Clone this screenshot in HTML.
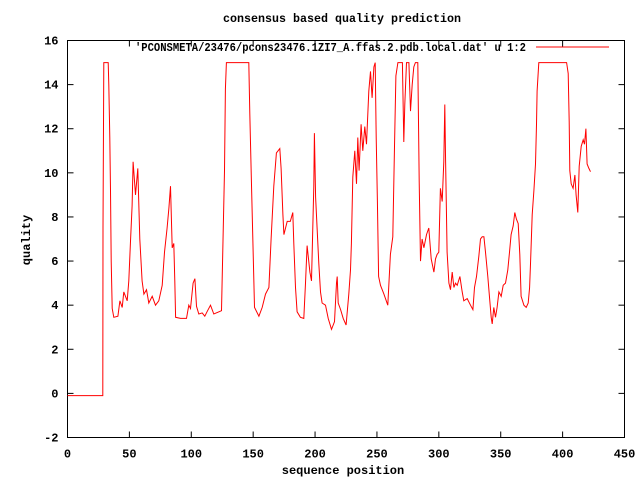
<!DOCTYPE html>
<html><head><meta charset="utf-8"><style>
body{margin:0;background:#fff}
svg text{font-family:"Liberation Mono","DejaVu Sans Mono",monospace;font-size:12px;font-weight:bold;fill:#000}
</style></head><body>
<svg id="chart" width="640" height="480" xmlns="http://www.w3.org/2000/svg">
<rect width="640" height="480" fill="#fff"/>
<text x="342" y="22" text-anchor="middle" textLength="238" lengthAdjust="spacingAndGlyphs">consensus based quality prediction</text>
<text x="343" y="474" text-anchor="middle">sequence position</text>
<text x="0" y="0" text-anchor="middle" transform="translate(30,240) rotate(-90)">quality</text>
<g id="axes"></g>
<text x="135" y="51" textLength="391" lengthAdjust="spacingAndGlyphs">'PCONSMETA/23476/pcons23476.1ZI7_A.ffas.2.pdb.local.dat' u 1:2</text>
<line x1="536" y1="47" x2="609" y2="47" stroke="#f00" stroke-width="1"/>
<rect x="67.5" y="40.5" width="557" height="397" fill="none" stroke="#000"/>
<polyline id="series" fill="none" stroke="#f00" stroke-width="1"/>
</svg>
<script>
const xTicks=[0,50,100,150,200,250,300,350,400,450];
const yTicks=[-2,0,2,4,6,8,10,12,14,16];
const posX=[0,28.5,28.7,29.3,32.9,33.4,34.2,34.7,35.3,36.1,37.4,40.7,42.3,44.2,45.5,48.2,49.5,50.9,52.2,53.0,54.9,56.8,58.4,60.3,61.7,63.8,65.7,68.4,71.1,73.8,76.5,78.4,80.5,81.9,83.2,84.6,85.9,86.7,87.3,91.3,96.1,98.0,99.4,101.5,102.9,104.2,106.1,108.8,110.9,112.7,115.5,118.2,122.3,124.4,125.5,126.8,127.6,128.4,146.5,147.3,148.4,150,151.1,154.6,157.3,160,162.7,164.5,166.7,168.8,171.5,172.6,174,174.8,177.5,180,182,182.8,184.2,185.5,188.2,190.9,192.3,193.6,195.8,197.1,199,199.5,200.4,201.7,203,204.4,205.7,208.4,210.6,213.3,215.7,217.3,217.9,218.7,220.6,222.7,225.1,227.3,228.6,229.4,230.5,232.1,233.5,234.5,235.6,237.2,238.6,240.2,241.6,243.4,244.8,246.1,247.5,248.6,249.4,250.4,251.3,252.9,255.6,258.8,260.9,262.8,264.2,265.3,266.9,270.6,271.7,272.5,273.9,275.8,277.1,278.5,279.8,281.1,283,284.1,285.2,286.5,287.9,290,291.9,293.8,296,297.3,298.6,300,301.3,302.7,304,304.8,305.4,306.7,308.1,309.4,310.8,312.2,313.5,314.8,317,318.9,320.2,322.9,325.6,327.5,328.8,330.4,332.3,333.7,335,336.4,337.7,339.6,341.2,342.3,343.1,344.4,345.8,347.1,348.5,350.4,352,353.9,355.7,357.1,358.4,360.1,361.4,362.7,364.1,365.4,366.5,368.7,370.6,372.2,373.3,374.1,375.4,376.8,378.1,378.9,379.4,380.8,403.2,404.5,405.3,405.8,406.9,408.5,409.9,410.9,412.3,413.4,415,416.6,417.7,418.8,419.8,421.2,422.5];
const quality=[-0.1,-0.1,7.5,15,15,14,11.6,9.2,6.0,3.85,3.45,3.5,4.2,3.9,4.6,4.2,5.1,6.9,8.5,10.5,9.0,10.2,7.0,5.1,4.5,4.7,4.1,4.4,4.0,4.2,4.9,6.4,7.5,8.4,9.4,6.6,6.8,5.1,3.45,3.4,3.4,4.0,3.85,5.0,5.2,3.95,3.6,3.65,3.5,3.7,4.0,3.6,3.7,3.75,6.5,10.1,13.8,15,15,12.7,10,6.3,3.9,3.5,3.9,4.5,4.8,7.0,9.4,10.9,11.1,10.2,8.1,7.2,7.8,7.8,8.2,6.8,4.8,3.7,3.45,3.4,5.0,6.7,5.5,5.1,9.4,11.8,8.9,7.4,5.9,4.6,4.1,4.0,3.4,2.9,3.25,5.0,5.3,4.1,3.8,3.4,3.1,4.5,5.6,6.8,9.8,11.0,9.5,11.6,10.1,12.2,11.0,12.1,11.3,13.7,14.6,13.4,14.8,15,11.6,8.7,5.3,4.9,4.5,4.0,6.3,7.1,11.2,14.4,15,15,11.4,13.1,15,15,12.8,14,14.8,15,15,9.6,6.0,7.0,6.6,7.2,7.5,6.1,5.5,6.1,6.3,6.4,9.3,8.7,10.5,13.1,10.8,6.4,5.0,4.7,5.5,4.8,5.0,4.9,5.3,4.6,4.2,4.3,4.0,3.8,4.8,5.3,6.2,7.0,7.1,7.1,6.4,5.3,4.2,3.45,3.15,3.9,3.45,3.9,4.6,4.4,4.9,5.0,5.6,6.4,7.2,7.6,8.2,7.9,7.7,6.3,4.4,4.0,3.9,4.1,4.8,6.0,8.1,9.2,10.4,12.2,13.7,15,15,14.5,12.3,10.1,9.5,9.3,9.9,9.0,8.2,10.3,11.2,11.5,11.3,12.0,10.4,10.2,10.05];
const L=67.5,R=624.5,T=40.5,B=437.5;
function sx(v){return L+(v-0)/(450-0)*(R-L);}
function sy(v){return B-(v+2)/(16+2)*(B-T);}
const NS='http://www.w3.org/2000/svg';
const ax=document.getElementById('axes');
function mk(t,a){const e=document.createElementNS(NS,t);for(const k in a)e.setAttribute(k,a[k]);ax.appendChild(e);return e;}
xTicks.forEach(v=>{const x=sx(v);
 const t1=mk('line',{x1:x,y1:B,x2:x,y2:B-6,stroke:'#000'});
 
 
 const t2=mk('line',{x1:x,y1:T,x2:x,y2:T+6,stroke:'#000'});
 
 
 const l=mk('text',{x:x,y:B+20,'text-anchor':'middle'});l.textContent=v;
 
 
});
yTicks.forEach(v=>{const y=sy(v);
 const t1=mk('line',{x1:L,y1:y,x2:L+6,y2:y,stroke:'#000'});
 
 
 const t2=mk('line',{x1:R,y1:y,x2:R-6,y2:y,stroke:'#000'});
 
 
 const l=mk('text',{x:L-9,y:y+4,'text-anchor':'end'});l.textContent=v;
 
 
});
document.getElementById('series').setAttribute('points',posX.map((x,i)=>sx(x).toFixed(1)+','+sy(quality[i]).toFixed(1)).join(' '));
</script>
</body></html>
